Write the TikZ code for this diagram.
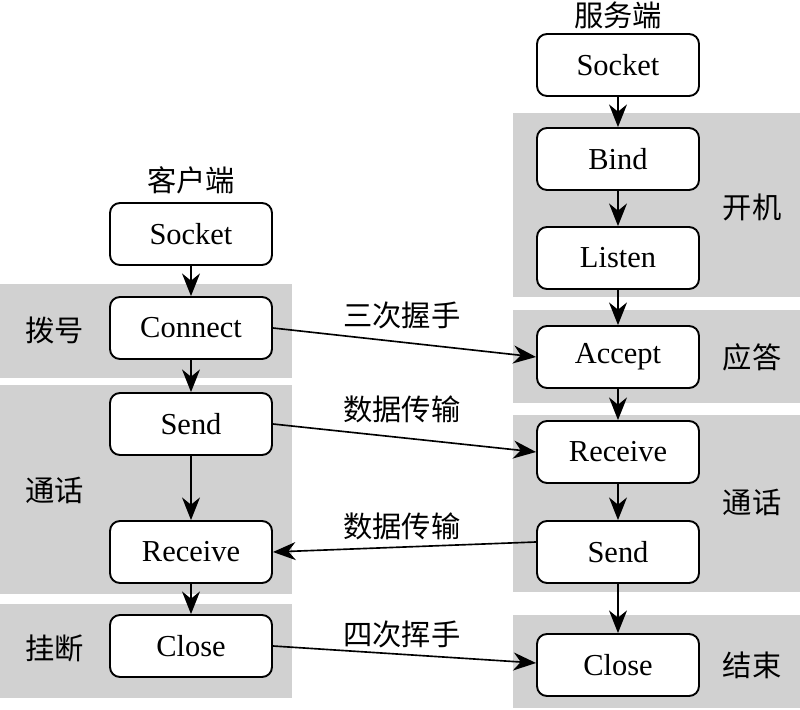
\documentclass[tikz,border=0pt]{standalone}
\usepackage{fontspec}
\setmainfont{Liberation Serif}
\newfontfamily\cjk{Noto Sans CJK SC}
\usetikzlibrary{arrows.meta}

\begin{document}
\begin{tikzpicture}[x=0.03cm,y=-0.03cm,
  box/.style={draw,line width=1.6pt,rounded corners=0.3cm,fill=white,
    minimum width=4.86cm,minimum height=1.86cm,font=\fontsize{26}{30}\selectfont},
  band/.style={fill=black!18},
  lbl/.style={font=\cjk\fontsize{25}{30}\selectfont},
  arr/.style={-{Stealth[length=0.68cm,width=0.54cm,inset=0.22cm]},line width=1.4pt}]
\useasboundingbox (0,0) rectangle (800,710);
% bands
\fill[band] (0,284) rectangle (292,378);
\fill[band] (0,385) rectangle (292,594);
\fill[band] (0,604) rectangle (292,698);
\fill[band] (513,113) rectangle (800,297);
\fill[band] (513,310) rectangle (800,403);
\fill[band] (513,415) rectangle (800,592);
\fill[band] (513,615) rectangle (800,708);
% client
\node [lbl] (ctitle) at (191,180) {客户端};
\node [box] (csock) at (191,234) {Socket};
\node [box] (cconn) at (191,328) {Connect};
\node [box] (csend) at (191,424) {Send};
\node [box] (crecv) at (191,552) {Receive};
\node [box] (cclose) at (191,646) {Close};
\node [lbl] (dial) at (55,330) {拨号};
\node [lbl] (ctalk) at (55,490) {通话};
\node [lbl] (hang) at (55,648) {挂断};
% server
\node [lbl] (stitle) at (618,15) {服务端};
\node [box] (ssock) at (618,65) {Socket};
\node [box] (sbind) at (618,159) {Bind};
\node [box] (slisten) at (618,258) {Listen};
\node [box] (sacc) at (618,357) {Accept};
\node [box] (srecv) at (618,452) {Receive};
\node [box] (ssend) at (618,552) {Send};
\node [box] (sclose) at (618,665) {Close};
\node [lbl] (boot) at (752,207) {开机};
\node [lbl] (answer) at (752,357) {应答};
\node [lbl] (stalk) at (752,502) {通话};
\node [lbl] (finish) at (752,665) {结束};
% vertical flow
\foreach \a/\b in {csock/cconn,cconn/csend,csend/crecv,crecv/cclose,
  ssock/sbind,sbind/slisten,slisten/sacc,sacc/srecv,srecv/ssend,ssend/sclose}
  \draw[arr] (\a) -- (\b);
% messages
\draw[arr] (cconn.east) -- node[lbl,pos=0.49,yshift=0.81cm] {三次握手} (sacc.west);
\draw[arr] (csend.east) -- node[lbl,pos=0.49,yshift=0.84cm] {数据传输} (srecv.west);
\draw[arr] ([yshift=0.3cm]ssend.west) -- node[lbl,pos=0.51,yshift=0.62cm] {数据传输} (crecv.east);
\draw[arr] (cclose.east) -- node[lbl,pos=0.49,yshift=0.6cm] {四次挥手} ([yshift=0.06cm]sclose.west);
\end{tikzpicture}
\end{document}
